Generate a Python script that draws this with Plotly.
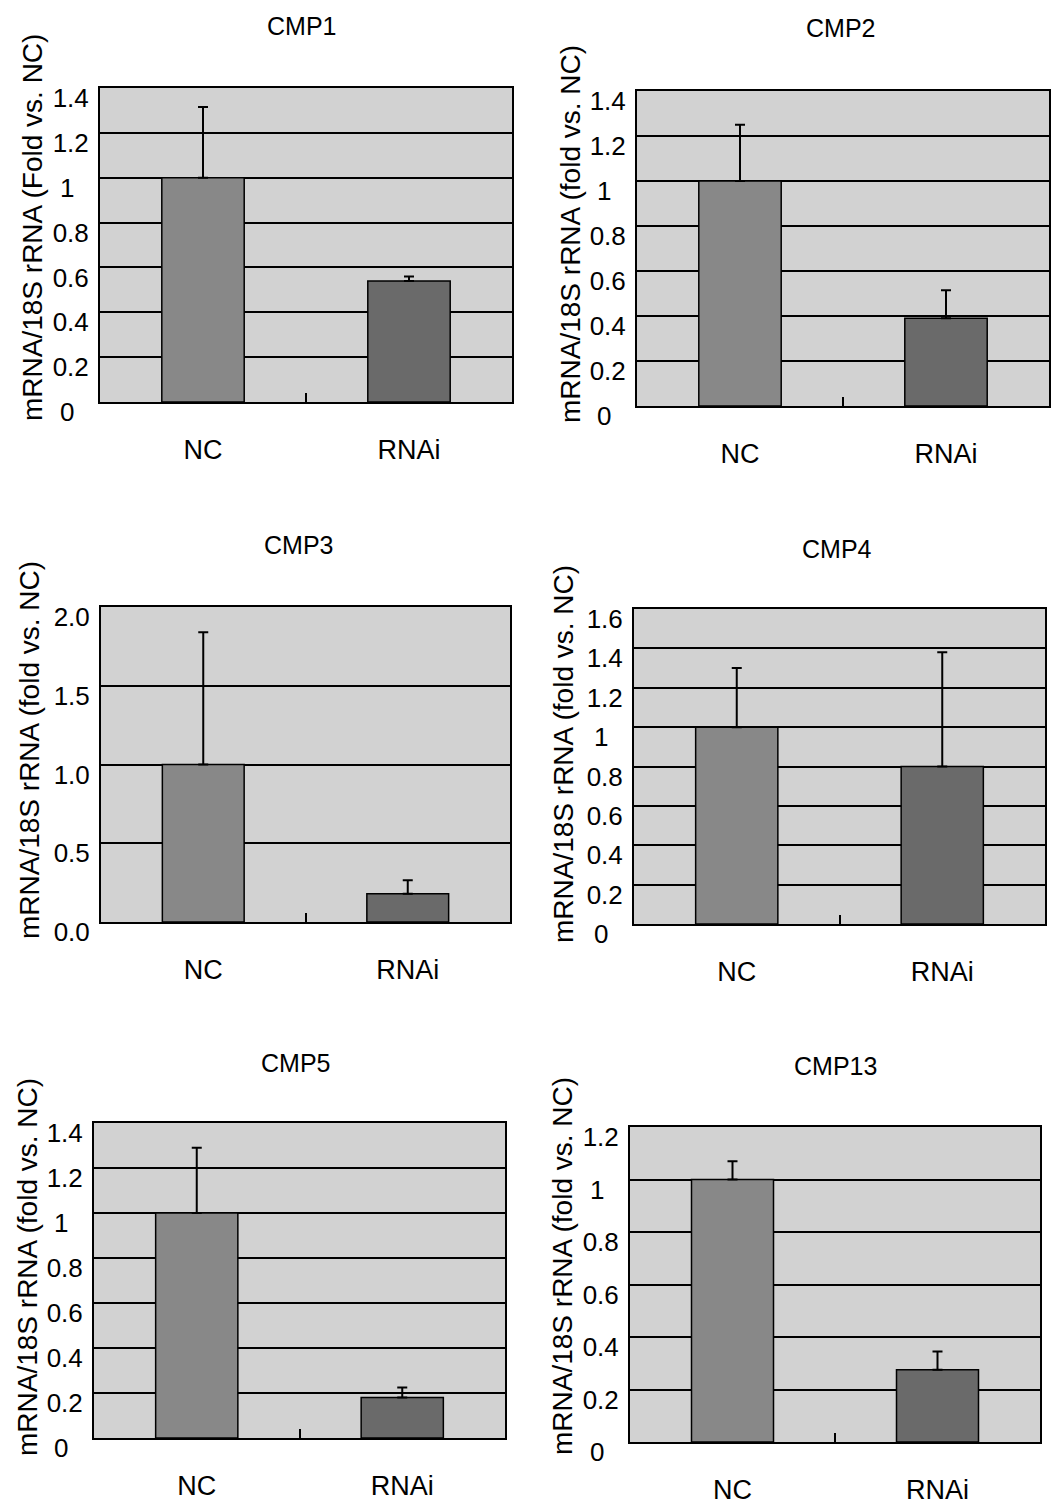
import plotly.graph_objects as go

# ---------------- data ----------------
panel_titles = ["CMP1", "CMP2", "CMP3", "CMP4", "CMP5", "CMP13"]
categories = ["NC", "RNAi"]
nc_values = [1.0, 1.0, 1.0, 1.0, 1.0, 1.0]
rnai_values = [0.54, 0.39, 0.18, 0.80, 0.18, 0.275]
nc_err = [0.315, 0.25, 0.84, 0.30, 0.29, 0.07]
rnai_err = [0.02, 0.125, 0.085, 0.58, 0.045, 0.07]
y_max = [1.4, 1.4, 2.0, 1.6, 1.4, 1.2]
y_titles = [
    "mRNA/18S rRNA (Fold vs. NC)",
    "mRNA/18S rRNA (fold vs. NC)",
    "mRNA/18S rRNA (fold vs. NC)",
    "mRNA/18S rRNA (fold vs. NC)",
    "mRNA/18S rRNA (fold vs. NC)",
    "mRNA/18S rRNA (fold vs. NC)",
]
tick_vals = [
    [0, 0.2, 0.4, 0.6, 0.8, 1.0, 1.2, 1.4],
    [0, 0.2, 0.4, 0.6, 0.8, 1.0, 1.2, 1.4],
    [0, 0.5, 1.0, 1.5, 2.0],
    [0, 0.2, 0.4, 0.6, 0.8, 1.0, 1.2, 1.4, 1.6],
    [0, 0.2, 0.4, 0.6, 0.8, 1.0, 1.2, 1.4],
    [0, 0.2, 0.4, 0.6, 0.8, 1.0, 1.2],
]
tick_text = [
    ["0", "0.2", "0.4", "0.6", "0.8", "1", "1.2", "1.4"],
    ["0", "0.2", "0.4", "0.6", "0.8", "1", "1.2", "1.4"],
    ["0.0", "0.5", "1.0", "1.5", "2.0"],
    ["0", "0.2", "0.4", "0.6", "0.8", "1", "1.2", "1.4", "1.6"],
    ["0", "0.2", "0.4", "0.6", "0.8", "1", "1.2", "1.4"],
    ["0", "0.2", "0.4", "0.6", "0.8", "1", "1.2"],
]

# ---------------- layout / style ----------------
# page body has an 8px default margin: the figure starts at (8, 8)
OFF = 8
W, H = 1062 - OFF, 1511 - OFF
# plot boxes in page pixels: (left, right, top, bottom)
boxes = [
    (100, 512, 88, 402),
    (637, 1049, 91, 406),
    (101, 510, 607, 922),
    (634, 1045, 609, 924),
    (94, 505, 1123, 1438),
    (630, 1040, 1127, 1442),
]
title_pos = [(301, 26), (840, 28), (298, 545), (837, 549), (295, 1063), (835, 1066)]
ytitle_pos = [(33, 228), (571, 234), (30, 750), (563, 754), (27, 1267), (562, 1266)]

NC_COLOR = "#888888"
RNAI_COLOR = "#6a6a6a"
BG = "#d2d2d2"
FONT = "Liberation Sans, Arial, sans-serif"


def px(x):
    return (x - OFF) / W


def py(y):
    return 1 - (y - OFF) / H


def pad(lbl):
    # centre single-character labels like the original
    return lbl + "\u2008\u2008" if len(lbl) == 1 else lbl


fig = go.Figure()
annotations = []
layout_axes = {}

for i in range(6):
    l, r, t, b = boxes[i]
    sx = "" if i == 0 else str(i + 1)
    fig.add_trace(go.Bar(
        x=categories,
        y=[nc_values[i], rnai_values[i]],
        xaxis="x" + sx, yaxis="y" + sx,
        width=0.4,
        marker=dict(color=[NC_COLOR, RNAI_COLOR], line=dict(color="black", width=1.5)),
        error_y=dict(type="data", symmetric=False,
                     array=[nc_err[i], rnai_err[i]], arrayminus=[0, 0],
                     color="black", thickness=2, width=5),
        showlegend=False,
    ))
    layout_axes["xaxis" + sx] = dict(
        domain=[px(l), px(r)], anchor="y" + sx, type="category",
        range=[-0.5, 1.5], showgrid=False, zeroline=False, automargin=False,
        showline=True, mirror=True, linecolor="black", linewidth=2,
        ticks="inside", tickson="boundaries", ticklen=9, tickwidth=2, tickcolor="black",
        tickfont=dict(size=27, color="black", family=FONT),
        ticklabelstandoff=23,
    )
    layout_axes["yaxis" + sx] = dict(
        domain=[py(b), py(t)], anchor="x" + sx, automargin=False,
        range=[0, y_max[i]], tickmode="array",
        tickvals=tick_vals[i], ticktext=[pad(s) for s in tick_text[i]],
        showgrid=True, gridcolor="black", gridwidth=2, zeroline=False,
        showline=True, mirror=True, linecolor="black", linewidth=2,
        ticks="", tickfont=dict(size=26, color="black", family=FONT),
        ticklabelshift=10, ticklabelstandoff=4,
    )
    tx, ty = title_pos[i]
    annotations.append(dict(
        text=panel_titles[i], x=px(tx), y=py(ty), xref="paper", yref="paper",
        xanchor="center", yanchor="middle", showarrow=False,
        font=dict(size=25, color="black", family=FONT),
    ))
    ax, ay = ytitle_pos[i]
    annotations.append(dict(
        text=y_titles[i], x=px(ax), y=py(ay), xref="paper", yref="paper",
        xanchor="center", yanchor="middle", showarrow=False, textangle=-90,
        font=dict(size=28, color="black", family=FONT),
    ))

fig.update_layout(
    width=W, height=H,
    margin=dict(l=0, r=0, t=0, b=0, autoexpand=False),
    paper_bgcolor="white", plot_bgcolor=BG,
    annotations=annotations,
    bargap=0.6,
    **layout_axes,
)

fig.write_html("out.html")
